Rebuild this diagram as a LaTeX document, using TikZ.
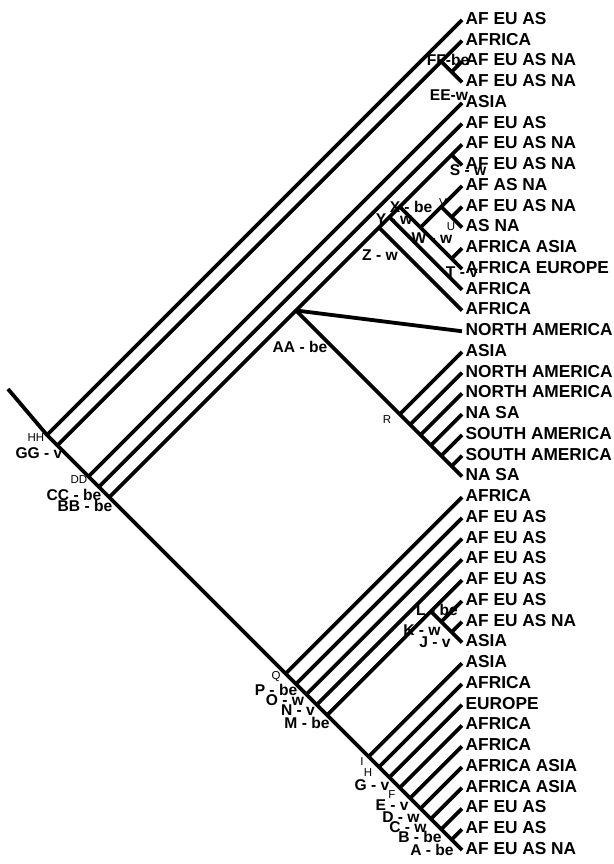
\documentclass[tikz,border=0pt]{standalone}
\usepackage{fontspec}
\setmainfont{Liberation Sans}
\newcommand{\clade}[3]{\coordinate (#1) at ({462-(#3-#2)*10.375},{20+(#2+#3-2)*10.375});}
\begin{document}
\begin{tikzpicture}[x=1pt,y=-1pt,
  br/.style={line width=3.8pt, line join=miter},
  leaf/.style={anchor=west, inner sep=0pt, font=\fontsize{17.3}{20}\selectfont\bfseries},
  lab/.style={inner sep=0pt, font=\fontsize{15.6}{18}\selectfont\bfseries},
  sm/.style={inner sep=0pt, font=\fontsize{11.5}{13}\selectfont}]
\fill[white] (0,0) rectangle (613,864);
\useasboundingbox (0,0) rectangle (613,864);
% tips
\foreach \i in {1,...,41} \coordinate (t\i) at (462,{20+(\i-1)*20.75});
% internal nodes
\coordinate (root) at (8,389);
\clade{nHH}{1}{41}
\clade{nGG}{2}{41}
\clade{nFF}{2}{4}
\clade{nEE}{3}{4}
\clade{nDD}{5}{41}
\clade{nCC}{6}{41}
\clade{nBB}{7}{41}
\clade{nAA}{7}{23}
\clade{nZ}{7}{15}
\clade{nY}{7}{14}
\clade{nX}{7}{13}
\clade{nS}{7}{8}
\clade{nW}{9}{13}
\clade{nV}{9}{11}
\clade{nU}{10}{11}
\clade{nT}{12}{13}
\clade{nRa}{17}{23}
\clade{nRb}{18}{23}
\clade{nRc}{19}{23}
\clade{nRd}{20}{23}
\clade{nRe}{21}{23}
\clade{nRf}{22}{23}
\clade{nQ}{24}{41}
\clade{nP}{25}{41}
\clade{nO}{26}{41}
\clade{nN}{27}{41}
\clade{nM}{28}{41}
\clade{nL}{28}{31}
\clade{nK}{29}{31}
\clade{nJ}{30}{31}
\clade{nI}{32}{41}
\clade{nH}{33}{41}
\clade{nG}{34}{41}
\clade{nF}{35}{41}
\clade{nE}{36}{41}
\clade{nD}{37}{41}
\clade{nC}{38}{41}
\clade{nB}{39}{41}
\clade{nA}{40}{41}
% trunk
\draw[br] (root) -- (nHH) -- (nGG) -- (nDD) -- (nCC) -- (nBB) -- (nQ) -- (nP) -- (nO) -- (nN) -- (nM) -- (nI) -- (nH) -- (nG) -- (nF) -- (nE) -- (nD) -- (nC) -- (nB) -- (nA) -- (t41);
% top
\draw[br] (nHH) -- (t1);
\draw[br] (nGG) -- (nFF) -- (t2);
\draw[br] (nFF) -- (nEE) -- (t4);
\draw[br] (nEE) -- (t3);
\draw[br] (nDD) -- (t5);
\draw[br] (nCC) -- (t6);
% middle clade
\draw[br] (nBB) -- (nAA) -- (nZ) -- (nY) -- (nX) -- (nS) -- (t7);
\draw[br] (nS) -- (t8);
\draw[br] (nAA) -- (t16);
\draw[br] (nZ) -- (t15);
\draw[br] (nY) -- (t14);
\draw[br] (nX) -- (nW) -- (nT) -- (t13);
\draw[br] (nT) -- (t12);
\draw[br] (nW) -- (nV) -- (t9);
\draw[br] (nV) -- (nU) -- (t11);
\draw[br] (nU) -- (t10);
\draw[br] (nAA) -- (nRa) -- (nRb) -- (nRc) -- (nRd) -- (nRe) -- (nRf) -- (t23);
\draw[br] (nRa) -- (t17);
\draw[br] (nRb) -- (t18);
\draw[br] (nRc) -- (t19);
\draw[br] (nRd) -- (t20);
\draw[br] (nRe) -- (t21);
\draw[br] (nRf) -- (t22);
% lower clades
\draw[br] (nQ) -- (t24);
\draw[br] (nP) -- (t25);
\draw[br] (nO) -- (t26);
\draw[br] (nN) -- (t27);
\draw[br] (nM) -- (nL) -- (t28);
\draw[br] (nL) -- (nK) -- (nJ) -- (t31);
\draw[br] (nK) -- (t29);
\draw[br] (nJ) -- (t30);
\draw[br] (nI) -- (t32);
\draw[br] (nH) -- (t33);
\draw[br] (nG) -- (t34);
\draw[br] (nF) -- (t35);
\draw[br] (nE) -- (t36);
\draw[br] (nD) -- (t37);
\draw[br] (nC) -- (t38);
\draw[br] (nB) -- (t39);
\draw[br] (nA) -- (t40);
% leaf labels
\foreach \i/\lbl in {1/AF EU AS, 2/AFRICA, 3/AF EU AS NA, 4/AF EU AS NA, 5/ASIA,
  6/AF EU AS, 7/AF EU AS NA, 8/AF EU AS NA, 9/AF AS NA, 10/AF EU AS NA,
  11/AS NA, 12/AFRICA ASIA, 13/AFRICA EUROPE, 14/AFRICA, 15/AFRICA,
  16/NORTH AMERICA, 17/ASIA, 18/NORTH AMERICA, 19/NORTH AMERICA, 20/NA SA,
  21/SOUTH AMERICA, 22/SOUTH AMERICA, 23/NA SA, 24/AFRICA, 25/AF EU AS,
  26/AF EU AS, 27/AF EU AS, 28/AF EU AS, 29/AF EU AS, 30/AF EU AS NA,
  31/ASIA, 32/ASIA, 33/AFRICA, 34/EUROPE, 35/AFRICA,
  36/AFRICA, 37/AFRICA ASIA, 38/AFRICA ASIA, 39/AF EU AS, 40/AF EU AS,
  41/AF EU AS NA}
  \node[leaf] (leaf\i) at ([xshift=3.5pt,yshift=1.5pt]t\i) {\lbl};
% node labels
\node[lab] (lFF) at (448,60) {FF-be};
\node[lab] (lEE) at (449,95) {EE-w};
\node[lab] (lS) at (468,170) {S - w};
\node[lab] (lX) at (411,207) {X - be};
\node[sm] (lV) at (443,203) {V};
\node[lab] (lY) at (394,219) {Y - w};
\node[sm] (lU) at (451,227) {U};
\node[lab] (lW) at (432,238) {W - w};
\node[lab] (lZ) at (380,255) {Z - w};
\node[lab] (lT) at (462,272) {T - v};
\node[lab] (lAA) at (300,347) {AA - be};
\node[sm] (lR) at (387,420) {R};
\node[sm] (lHH) at (36,438) {HH};
\node[lab] (lGG) at (39,453) {GG - v};
\node[sm] (lDD) at (79,480) {DD};
\node[lab] (lCC) at (74,495) {CC - be};
\node[lab] (lBB) at (85,506) {BB - be};
\node[sm] (lQ) at (276,677) {Q};
\node[lab] (lP) at (276,690) {P - be};
\node[lab] (lO) at (285,700) {O - w};
\node[lab] (lN) at (298,710) {N - v};
\node[lab] (lM) at (307,723) {M - be};
\node[lab] (lL) at (437,610) {L - be};
\node[lab] (lK) at (422,630) {K - w};
\node[lab] (lJ) at (435,642) {J - v};
\node[sm] (lI) at (362,762) {I};
\node[sm] (lH) at (368,773) {H};
\node[lab] (lG) at (372,785) {G - v};
\node[sm] (lF) at (392,795) {F};
\node[lab] (lE) at (392,805) {E - v};
\node[lab] (lD) at (401,817) {D - w};
\node[lab] (lC) at (408,827) {C - w};
\node[lab] (lB) at (420,837) {B - be};
\node[lab] (lA) at (432,850) {A - be};
\end{tikzpicture}
\end{document}
